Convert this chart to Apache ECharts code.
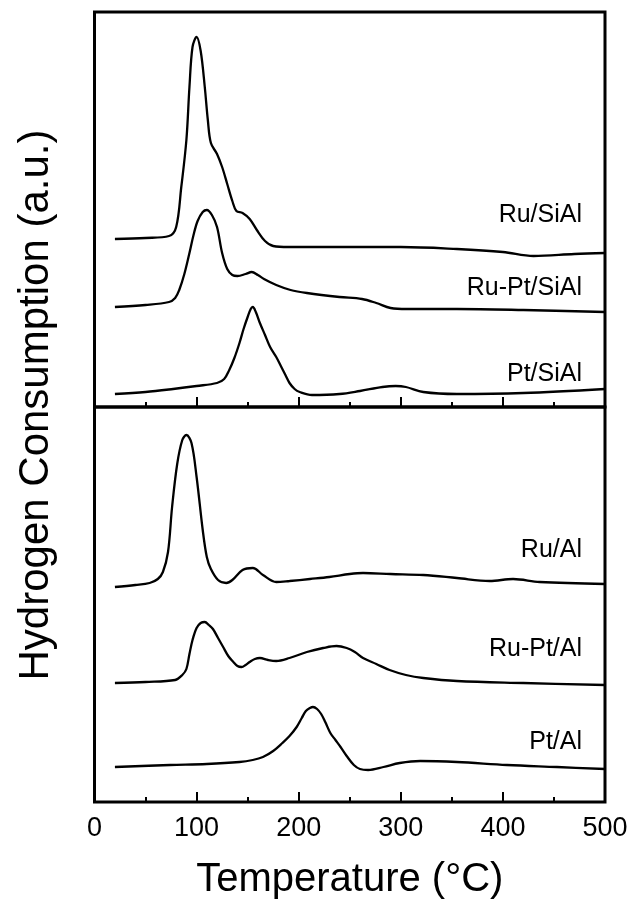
<!DOCTYPE html>
<html>
<head>
<meta charset="utf-8">
<script src="https://cdn.jsdelivr.net/npm/echarts@6/dist/echarts.min.js"></script>
<style>
html,body{margin:0;padding:0;background:#fff;}
#c{width:633px;height:909px;}
</style>
</head>
<body>
<div id="c"></div>
<script>
// Temperature (°C) vs hydrogen consumption (a.u., offset curves)
const xTicks = [0, 100, 200, 300, 400, 500];

const ruSiAl = [[20,168],[50,169],[73,171],[80,180],[85,220],[90,267],[93,320],[96,360],[100,370],[104,356],[108,320],[111,287],[114,264],[120,253],[125,240],[130,223],[135,206],[139,196],[145,194],[152,188],[159,177],[167,166],[175,161],[190,160],[250,160],[300,160],[355,158],[400,155],[430,151],[470,153],[500,154]];

const ruPtSiAl = [[20,100],[50,102],[73,105],[79,109],[83,117],[88,133],[93,154],[97,172],[101,186],[106,195],[110,197],[115,192],[120,180],[125,154],[130,138],[135,132],[140,131],[148,133],[154,135],[160,132],[166,128],[178,122],[192,117],[208,114],[240,110],[262,108],[276,104],[290,99],[306,98],[355,98],[420,97],[500,95]];

const ptSiAl = [[20,13],[50,15],[77,18],[100,21],[120,24],[127,28],[132,37],[137,49],[142,64],[146,78],[150,90],[153,98],[155,100],[158,95],[162,84],[167,72],[172,60],[178,50],[183,40],[187,32],[191,24],[196,18],[201,15],[213,12],[240,13],[260,16],[282,20],[295,21],[305,20],[322,15],[355,13],[420,14],[500,18]];

const ruAl = [[20,215],[40,217],[54,219],[62,223],[67,230],[72,250],[76,295],[81,338],[86,362],[90,367],[95,359],[100,325],[106,272],[110,245],[114,233],[121,222],[129,219],[135,222],[145,232],[155,234],[165,227],[178,220],[191,221],[211,223],[230,225],[250,228],[263,229],[290,228],[322,227],[355,224],[387,221],[410,223],[436,220],[500,218]];

const ruPtAl = [[20,119],[50,120],[79,122],[86,127],[90,133],[93,148],[96,162],[100,174],[104,179],[108,180],[112,177],[116,173],[121,164],[126,155],[131,146],[136,140],[140,136],[144,135],[148,137],[152,140],[157,143],[162,144],[170,142],[178,141],[191,144],[208,150],[224,154],[237,156],[247,154],[255,150],[263,144],[276,138],[289,132],[305,127],[322,124],[355,121],[420,119],[500,117]];

const ptAl = [[20,35],[74,37],[110,38],[142,40],[155,42],[165,45],[175,51],[184,59],[191,66],[198,75],[203,84],[207,91],[211,94],[214,95],[218,93],[222,88],[226,80],[231,69],[236,62],[241,55],[247,46],[254,37],[260,33],[268,32],[283,35],[299,39],[319,41],[355,40],[404,37],[453,35],[500,33]];

const curveNames = ['Ru/SiAl', 'Ru-Pt/SiAl', 'Pt/SiAl', 'Ru/Al', 'Ru-Pt/Al', 'Pt/Al'];
const yTitle = 'Hydrogen Consumption (a.u.)';
const xTitle = 'Temperature (°C)';

const FONT = '"Liberation Sans", Arial, sans-serif';
const chart = echarts.init(document.getElementById('c'), null, {renderer: 'canvas'});

function xAxisCfg(gridIndex, showLabels) {
  return {
    type: 'value', gridIndex: gridIndex, min: xTicks[0], max: xTicks[xTicks.length - 1], interval: 100,
    axisLine: {show: false},
    axisTick: {show: true, inside: true, length: 10, lineStyle: {color: '#000', width: 2}},
    minorTick: {show: true, splitNumber: 2, length: 5, lineStyle: {color: '#000', width: 2}},
    splitLine: {show: false},
    axisLabel: {show: showLabels, color: '#000', fontSize: 27, fontFamily: FONT, margin: 13},
    name: showLabels ? xTitle : '',
    nameLocation: 'middle', nameGap: 58,
    nameTextStyle: {color: '#000', fontSize: 40, fontFamily: FONT}
  };
}
function yAxisCfg(gridIndex) {
  return {type: 'value', gridIndex: gridIndex, min: 0, max: 395, show: false};
}
function lineSeries(name, data, axisIndex) {
  return {
    name: name, type: 'line', data: data, xAxisIndex: axisIndex, yAxisIndex: axisIndex,
    smooth: 0.35, showSymbol: false, symbol: 'none', silent: true,
    lineStyle: {color: '#000', width: 2.3}
  };
}
function label(text, y) {
  return {type: 'text', x: 582, y: y, silent: true,
    style: {text: text, fill: '#000', font: '25px ' + FONT, textAlign: 'right', textVerticalAlign: 'middle'}};
}

chart.setOption({
  animation: false,
  backgroundColor: '#fff',
  grid: [
    {left: 94.5, width: 510.5, top: 12, height: 395, show: true, borderColor: '#000', borderWidth: 3, backgroundColor: 'transparent'},
    {left: 94.5, width: 510.5, top: 407, height: 395, show: true, borderColor: '#000', borderWidth: 3, backgroundColor: 'transparent'}
  ],
  xAxis: [xAxisCfg(0, false), xAxisCfg(1, true)],
  yAxis: [yAxisCfg(0), yAxisCfg(1)],
  series: [
    lineSeries(curveNames[0], ruSiAl, 0),
    lineSeries(curveNames[1], ruPtSiAl, 0),
    lineSeries(curveNames[2], ptSiAl, 0),
    lineSeries(curveNames[3], ruAl, 1),
    lineSeries(curveNames[4], ruPtAl, 1),
    lineSeries(curveNames[5], ptAl, 1)
  ],
  graphic: [
    label(curveNames[0], 215),
    label(curveNames[1], 288),
    label(curveNames[2], 374),
    label(curveNames[3], 550),
    label(curveNames[4], 649),
    label(curveNames[5], 742),
    {type: 'text', x: 36, y: 405, rotation: Math.PI / 2, silent: true,
     style: {text: yTitle, fill: '#000', font: '42px ' + FONT, textAlign: 'center', textVerticalAlign: 'middle'}}
  ]
});
</script>
</body>
</html>
